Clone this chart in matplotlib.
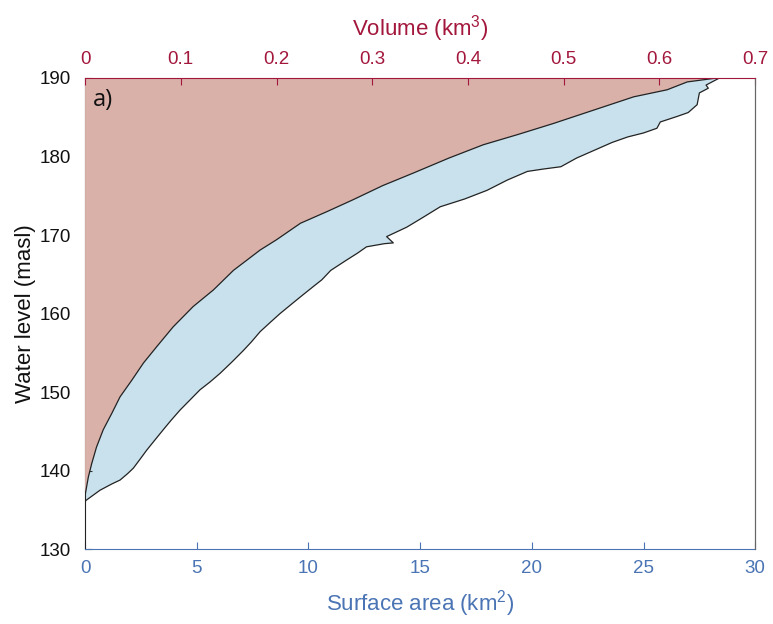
import numpy as np
import matplotlib
matplotlib.use('Agg')
import matplotlib.pyplot as plt

plt.rcParams['font.family'] = ['Liberation Sans', 'DejaVu Sans']
plt.rcParams['mathtext.fontset'] = 'custom'
plt.rcParams['mathtext.rm'] = 'Liberation Sans'
plt.rcParams['mathtext.it'] = 'Liberation Sans'

# Surface area curve (km2) vs water level (masl)
area_km2 = [0.0, 0.04, 0.67, 1.2, 1.57, 1.9, 2.16, 2.45, 2.76, 3.1, 3.5, 3.85, 4.25, 4.7,
            5.15, 5.6, 6.05, 6.6, 7.09, 7.45, 7.84, 8.3, 8.73, 9.2, 9.63, 10.2, 10.6,
            11.0, 11.7, 12.2, 12.6, 13.4, 13.8, 13.5, 13.8, 14.4, 15.1, 15.9, 17.0, 18.0,
            18.9, 19.8, 20.5, 21.3, 22.0, 22.8, 23.6, 24.3, 25.0, 25.6, 25.75, 26.5,
            27.0, 27.4, 27.5, 27.9, 27.8, 28.4]
area_level = [136.0, 136.2, 137.5, 138.3, 138.8, 139.6, 140.3, 141.4, 142.6, 143.8, 145.2,
              146.4, 147.7, 149.0, 150.3, 151.3, 152.4, 153.9, 155.3, 156.4, 157.7, 158.9,
              160.0, 161.1, 162.1, 163.4, 164.3, 165.5, 166.8, 167.7, 168.5, 168.9, 169.0,
              169.8, 170.2, 171.0, 172.2, 173.6, 174.6, 175.7, 177.0, 178.1, 178.4, 178.7,
              179.8, 180.8, 181.8, 182.5, 183.0, 183.6, 184.4, 185.1, 185.6, 186.6, 188.1,
              188.7, 189.1, 190.0]

# Volume curve (km3) vs water level (masl)
volume_km3 = [0.0, 0.0, 0.001, 0.0035, 0.007, 0.012, 0.019, 0.028, 0.0366, 0.0488, 0.061,
              0.075, 0.092, 0.113, 0.134, 0.155, 0.183, 0.200, 0.225, 0.253, 0.280, 0.311,
              0.343, 0.380, 0.416, 0.452, 0.489, 0.531, 0.573, 0.608, 0.629, 0.660]
volume_level = [136.0, 136.8, 137.5, 139.2, 140.9, 143.0, 145.2, 147.3, 149.4, 151.5, 153.7,
                155.8, 158.3, 160.9, 163.0, 165.5, 168.1, 169.4, 171.5, 173.0, 174.5, 176.3,
                177.9, 179.8, 181.5, 182.8, 184.2, 185.9, 187.6, 188.5, 189.5, 190.0]

area_ticks = [0, 5, 10, 15, 20, 25, 30]
volume_ticks = [0, 0.1, 0.2, 0.3, 0.4, 0.5, 0.6, 0.7]
volume_ticklabels = ['0', '0.1', '0.2', '0.3', '0.4', '0.5', '0.6', '0.7']
level_ticks = [130, 140, 150, 160, 170, 180, 190]

blue_axis = '#4a74b4'
red_axis = '#a3173c'
blue_fill = '#c8e1ec'
red_fill = '#d9b1a9'

fig = plt.figure(figsize=(7.73, 6.24), dpi=100)
ax = fig.add_axes([0.110, 0.120, 0.867, 0.755])

# blue region: left of the surface area curve
ax.fill(list(area_km2) + [0.0], list(area_level) + [190.0],
        facecolor=blue_fill, edgecolor='none', zorder=1)
ax.plot(area_km2, area_level, color='#222222', lw=0.9, zorder=2)
ax.set_xlim(0, 30)
ax.set_ylim(130, 190)
ax.set_xticks(area_ticks)
ax.set_yticks(level_ticks)
ax.set_xlabel('Surface area (km$^{2}$)', color=blue_axis, fontsize=16, labelpad=8)
ax.set_ylabel('Water level (masl)', color='#111111', fontsize=16, labelpad=3)
ax.tick_params(axis='x', colors=blue_axis, direction='in', length=5, labelsize=13.5, pad=8)
ax.tick_params(axis='y', colors='#333333', labelcolor='#111111', direction='in',
               length=5, labelsize=13.5, pad=10)
ax.spines['bottom'].set_color(blue_axis)
ax.spines['left'].set_color('#222222')
ax.spines['right'].set_color('#666666')
ax.spines['top'].set_visible(False)

# red region: left of the volume curve (top axis)
ax2 = ax.twiny()
ax2.fill(list(volume_km3) + [0.0], list(volume_level) + [190.0],
         facecolor=red_fill, edgecolor='none', zorder=1)
ax2.plot(volume_km3, volume_level, color='#222222', lw=0.9, zorder=2)
ax2.set_xlim(0, 0.7)
ax2.set_ylim(130, 190)
ax2.set_xticks(volume_ticks)
ax2.set_xticklabels(volume_ticklabels)
ax2.set_xlabel('Volume (km$^{3}$)', color=red_axis, fontsize=16, labelpad=11)
ax2.tick_params(axis='x', colors=red_axis, direction='in', length=5, labelsize=13.5, pad=7)
ax2.spines['top'].set_color(red_axis)
ax2.spines['bottom'].set_visible(False)
ax2.spines['left'].set_visible(False)
ax2.spines['right'].set_color('#666666')

ax2.text(0.012, 0.953, 'a)', transform=ax2.transAxes, fontsize=17,
         family=['Open Sans', 'DejaVu Sans'], va='center', ha='left', color='#111111')

fig.savefig('out.png', dpi=100)
